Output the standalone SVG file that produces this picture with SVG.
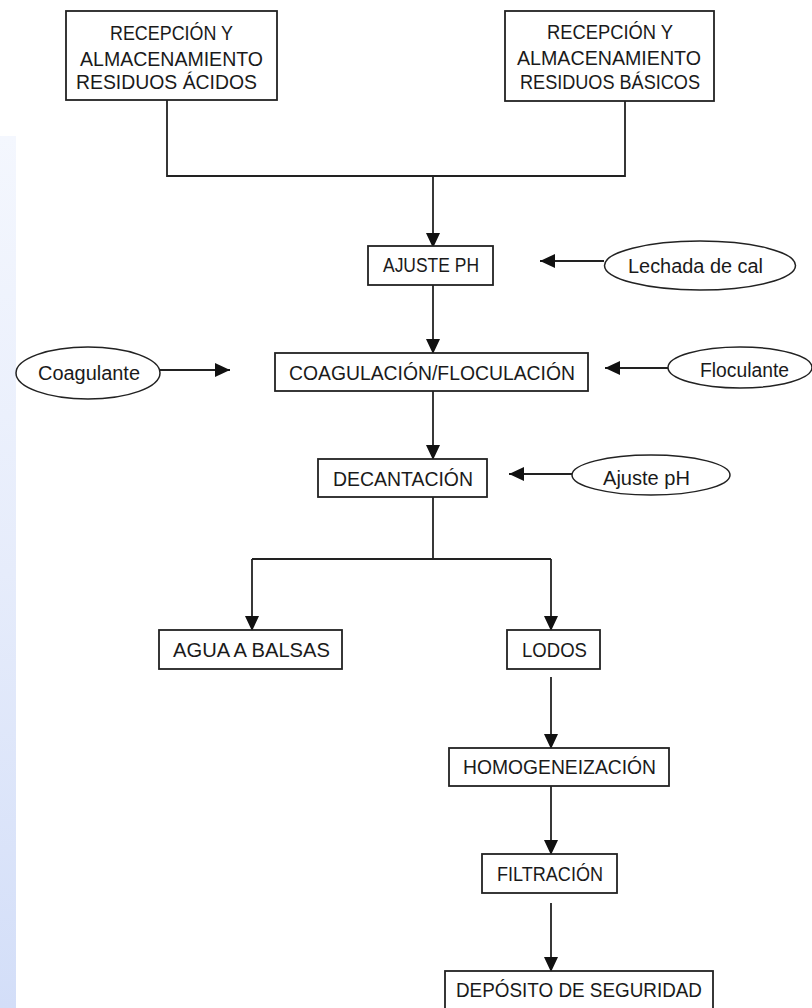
<svg xmlns="http://www.w3.org/2000/svg" width="812" height="1008" viewBox="0 0 812 1008">
<defs>
<linearGradient id="strip" x1="0" y1="0" x2="0" y2="1">
<stop offset="0" stop-color="#f4f7fe"/>
<stop offset="0.5" stop-color="#e6ecfb"/>
<stop offset="1" stop-color="#d3def8"/>
</linearGradient>
<marker id="arr" markerUnits="userSpaceOnUse" markerWidth="15" markerHeight="14" refX="15" refY="7" orient="auto">
<path d="M0,0 L15,7 L0,14 z" fill="#111"/>
</marker>
<style>
.box{fill:#fff;stroke:#222;stroke-width:1.8}
.ell{fill:#fff;stroke:#222;stroke-width:1.5}
.t{font-family:"Liberation Sans",Arial,sans-serif;font-size:20px;fill:#1a1a1a;text-anchor:middle}
.ln{fill:none;stroke:#222;stroke-width:1.8}
.ar{fill:none;stroke:#222;stroke-width:1.8;marker-end:url(#arr)}
</style>
</defs>
<rect x="0" y="0" width="812" height="1008" fill="#fff"/>
<rect x="0" y="136" width="16" height="872" fill="url(#strip)"/>

<g id="connectors">
<polyline class="ln" points="167,100 167,176 625,176 625,101"/>
<line class="ar" x1="433" y1="176" x2="433" y2="248"/>
<line class="ar" x1="604" y1="261" x2="540" y2="261"/>
<line class="ar" x1="433" y1="285" x2="433" y2="354"/>
<line class="ar" x1="160" y1="370" x2="230" y2="370"/>
<line class="ar" x1="668" y1="368" x2="605" y2="368"/>
<line class="ar" x1="433" y1="391" x2="433" y2="460"/>
<line class="ar" x1="572" y1="474" x2="509" y2="474"/>
<polyline class="ln" points="433,497 433,559"/>
<polyline class="ln" points="252,559 551,559"/>
<line class="ar" x1="252" y1="559" x2="252" y2="631"/>
<line class="ar" x1="551" y1="559" x2="551" y2="631"/>
<line class="ar" x1="551" y1="677" x2="551" y2="749"/>
<line class="ar" x1="551" y1="786" x2="551" y2="855"/>
<line class="ar" x1="551" y1="903" x2="551" y2="972"/>
</g>

<g id="n_acidos">
<rect class="box" x="66" y="11" width="211" height="89"/>
<text class="t" x="171.5" y="40" textLength="123" lengthAdjust="spacingAndGlyphs">RECEPCIÓN Y</text>
<text class="t" x="171.5" y="66" textLength="183" lengthAdjust="spacingAndGlyphs">ALMACENAMIENTO</text>
<text class="t" x="166.5" y="89" textLength="181" lengthAdjust="spacingAndGlyphs">RESIDUOS ÁCIDOS</text>
</g>
<g id="n_basicos">
<rect class="box" x="505" y="11" width="209" height="90"/>
<text class="t" x="610" y="39" textLength="126" lengthAdjust="spacingAndGlyphs">RECEPCIÓN Y</text>
<text class="t" x="609" y="65" textLength="184" lengthAdjust="spacingAndGlyphs">ALMACENAMIENTO</text>
<text class="t" x="610" y="89" textLength="180" lengthAdjust="spacingAndGlyphs">RESIDUOS BÁSICOS</text>
</g>
<g id="n_ajuste">
<rect class="box" x="368" y="246" width="125" height="39"/>
<text class="t" x="431" y="272" textLength="96" lengthAdjust="spacingAndGlyphs">AJUSTE PH</text>
</g>
<g id="n_lechada">
<ellipse class="ell" cx="700" cy="265.5" rx="95.5" ry="24.5"/>
<text class="t" x="695.5" y="273" textLength="135" lengthAdjust="spacingAndGlyphs">Lechada de cal</text>
</g>
<g id="n_coagulante">
<ellipse class="ell" cx="88" cy="373" rx="72" ry="26"/>
<text class="t" x="89" y="380" textLength="102" lengthAdjust="spacingAndGlyphs">Coagulante</text>
</g>
<g id="n_coag">
<rect class="box" x="275" y="353" width="313" height="38"/>
<text class="t" x="432" y="380" textLength="286" lengthAdjust="spacingAndGlyphs">COAGULACIÓN/FLOCULACIÓN</text>
</g>
<g id="n_floculante">
<ellipse class="ell" cx="740" cy="367.5" rx="72" ry="20.5"/>
<text class="t" x="744.5" y="377" textLength="89" lengthAdjust="spacingAndGlyphs">Floculante</text>
</g>
<g id="n_decant">
<rect class="box" x="318" y="459" width="169" height="38"/>
<text class="t" x="403" y="486" textLength="140" lengthAdjust="spacingAndGlyphs">DECANTACIÓN</text>
</g>
<g id="n_ajustepH">
<ellipse class="ell" cx="651" cy="475" rx="79" ry="20"/>
<text class="t" x="646.5" y="485" textLength="87" lengthAdjust="spacingAndGlyphs">Ajuste pH</text>
</g>
<g id="n_agua">
<rect class="box" x="159" y="630" width="183" height="39"/>
<text class="t" x="251.5" y="657" textLength="157" lengthAdjust="spacingAndGlyphs">AGUA A BALSAS</text>
</g>
<g id="n_lodos">
<rect class="box" x="507" y="630" width="93" height="39"/>
<text class="t" x="554.5" y="657" textLength="65" lengthAdjust="spacingAndGlyphs">LODOS</text>
</g>
<g id="n_homog">
<rect class="box" x="449" y="748" width="220" height="38"/>
<text class="t" x="559.5" y="774" textLength="193" lengthAdjust="spacingAndGlyphs">HOMOGENEIZACIÓN</text>
</g>
<g id="n_filtr">
<rect class="box" x="482" y="854" width="135" height="39"/>
<text class="t" x="550" y="881" textLength="106" lengthAdjust="spacingAndGlyphs">FILTRACIÓN</text>
</g>
<g id="n_deposito">
<rect class="box" x="445" y="971" width="268" height="45"/>
<text class="t" x="579" y="997" textLength="246" lengthAdjust="spacingAndGlyphs">DEPÓSITO DE SEGURIDAD</text>
</g>
</svg>
